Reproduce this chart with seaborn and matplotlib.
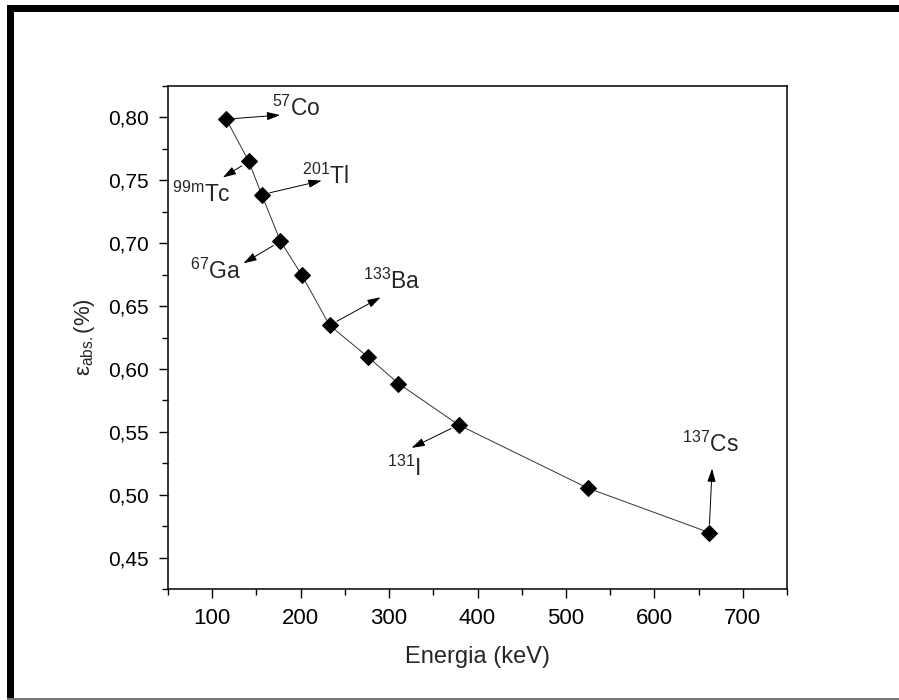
import matplotlib
matplotlib.use("Agg")
import matplotlib.pyplot as plt
from matplotlib.patches import Rectangle
from matplotlib.ticker import FuncFormatter, MultipleLocator
import seaborn as sns
import pandas as pd

# Absolute detection efficiency versus gamma energy
energia_kev = [115.8, 141.4, 155.9, 177.2, 201.0, 232.7, 275.6, 310.6, 378.6, 524.9, 661.9]
eficiencia = [0.7987, 0.7650, 0.7386, 0.7015, 0.6750, 0.6347, 0.6098, 0.5884, 0.5555, 0.5052, 0.4699]

# Labelled isotopes: index of the point, superscript mass number, symbol
rotulos_idx = [0, 1, 2, 3, 5, 8, 10]
rotulos_massa = ["57", "99m", "201", "67", "133", "131", "137"]
rotulos_simbolo = ["Co", "Tc", "Tl", "Ga", "Ba", "I", "Cs"]

# Arrow tip and text offsets (pixels, relative to the point)
seta_offsets = [(54, 4), (-26, -16), (60, 14), (-37, -22), (51, 28), (-47, -23), (3, 64)]
texto_offsets = [(46, 3), (-77, -40), (40, 11), (-90, -38), (33, 36), (-72, -51), (-27, 81)]

sns.set_style("ticks")
plt.rcParams["font.family"] = ["Liberation Sans", "DejaVu Sans"]
plt.rcParams["mathtext.fontset"] = "custom"
plt.rcParams["mathtext.rm"] = "Liberation Sans"
plt.rcParams["mathtext.it"] = "Liberation Sans:italic"
plt.rcParams["mathtext.bf"] = "Liberation Sans:bold"

df = pd.DataFrame({"E": energia_kev, "eff": eficiencia})

fig = plt.figure(figsize=(8.99, 7.0), dpi=100)
ax = fig.add_axes([0.1869, 0.1586, 0.6885, 0.7185])

sns.lineplot(data=df, x="E", y="eff", ax=ax, color="#333333", linewidth=0.7,
             marker="D", markersize=8.5, markerfacecolor="black",
             markeredgecolor="black", sort=False)

ax.set_xlim(50, 750)
ax.set_ylim(0.425, 0.825)
ax.xaxis.set_major_locator(MultipleLocator(100))
ax.xaxis.set_minor_locator(MultipleLocator(50))
ax.yaxis.set_major_locator(MultipleLocator(0.05))
ax.yaxis.set_minor_locator(MultipleLocator(0.025))
ax.yaxis.set_major_formatter(FuncFormatter(lambda v, p: f"{v:.2f}".replace(".", ",")))
ax.xaxis.set_major_formatter(FuncFormatter(lambda v, p: f"{v:.0f}" if v >= 100 else ""))

ax.tick_params(axis="both", which="major", direction="out", length=6.5, width=1.0,
               color="black", labelcolor="black", pad=7.5)
ax.tick_params(axis="y", which="major", labelsize=15)
ax.tick_params(axis="x", which="major", labelsize=16)
ax.tick_params(axis="both", which="minor", direction="out", length=4, width=1.0,
               color="black")
for s in ax.spines.values():
    s.set_visible(True)
    s.set_linewidth(1.1)
    s.set_color("black")

ax.set_xlabel("Energia (keV)", fontsize=17, labelpad=12)
ax.set_ylabel(r"$\mathrm{ε}_{\mathrm{abs.}}$(%)", fontsize=16, labelpad=8)

for i, m, s, (ax_dx, ax_dy), (tx, ty) in zip(rotulos_idx, rotulos_massa, rotulos_simbolo,
                                             seta_offsets, texto_offsets):
    px, py = energia_kev[i], eficiencia[i]
    ax.annotate("", xy=(px, py), xytext=(ax_dx, ax_dy), textcoords="offset pixels",
                arrowprops=dict(arrowstyle="<|-,head_length=0.8,head_width=0.25",
                                color="black", lw=0.7, shrinkA=0, shrinkB=6))
    ax.annotate(f"$^{{\\mathrm{{{m}}}}}$" + s, xy=(px, py), xytext=(tx, ty),
                textcoords="offset pixels", ha="left", va="baseline", fontsize=16.5)

# Outer frame
fig.add_artist(Rectangle((7 / 899, 1 - 12 / 700), 1 - 7 / 899, 7 / 700,
                         transform=fig.transFigure, color="black", lw=0))
fig.add_artist(Rectangle((7 / 899, 2 / 700), 7 / 899, 1 - 14 / 700,
                         transform=fig.transFigure, color="black", lw=0))
fig.add_artist(Rectangle((7 / 899, 0), 1 - 7 / 899, 2 / 700,
                         transform=fig.transFigure, color="#777777", lw=0))

fig.savefig("out.png", dpi=100)
